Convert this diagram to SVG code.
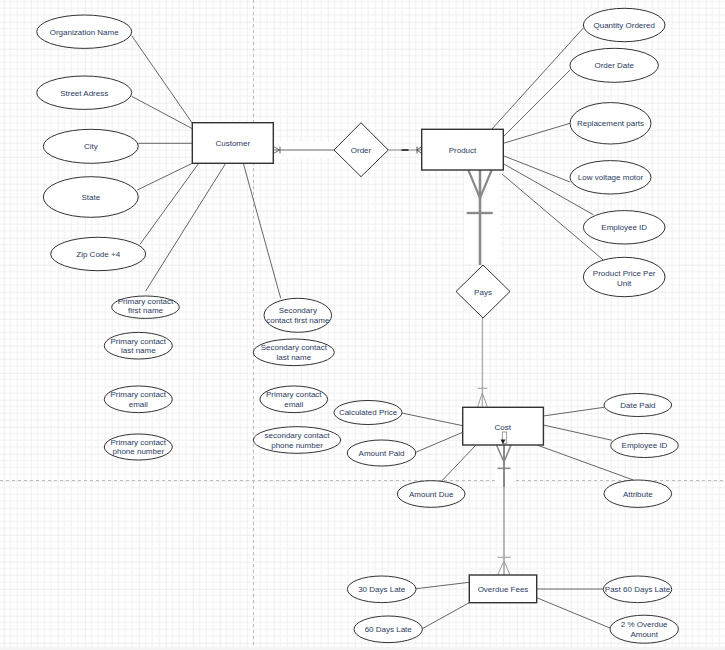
<svg xmlns="http://www.w3.org/2000/svg" width="725" height="650" viewBox="0 0 725 650">
<defs>
<pattern id="grid" patternUnits="userSpaceOnUse" x="3.7" y="21.7" width="27" height="27">
<path d="M6.75 0V27M13.5 0V27M20.25 0V27M0 6.75H27M0 13.5H27M0 20.25H27" stroke="#f1f1f1" stroke-width="1" fill="none"/>
<path d="M0 0V27M0 0H27" stroke="#dedede" stroke-width="1" fill="none"/>
</pattern>
<filter id="blur" x="-50%" y="-10%" width="200%" height="120%"><feGaussianBlur stdDeviation="0.7"/></filter>
<style>
.e{fill:#fff;stroke:#333;stroke-width:1}
.r{fill:#fff;stroke:#333;stroke-width:1.4}
.t{font-family:"Liberation Sans",Arial,sans-serif;font-size:8px;fill:#2b3a62;text-anchor:middle}
.c{stroke:#555;stroke-width:0.9;fill:none}
.g{stroke:#8a8a8a;fill:none}
</style>
</defs>
<rect width="725" height="650" fill="#fff"/>
<rect width="725" height="647" fill="url(#grid)"/>
<rect y="647" width="725" height="3" fill="#f3f3f3"/>
<line x1="253.5" y1="0" x2="253.5" y2="647" stroke="#bdbdbd" stroke-dasharray="3,3"/>
<line x1="0" y1="480.5" x2="725" y2="480.5" stroke="#bdbdbd" stroke-dasharray="3,3"/>

<g id="connectors">
<!-- halos -->
<rect x="274" y="142" width="60" height="16" fill="#fff"/>
<rect x="464" y="170" width="36" height="94" fill="#fff"/>
<rect x="495" y="445" width="18" height="41" fill="#fff"/>
<!-- customer attrs -->
<line class="c" x1="131.7" y1="35.7" x2="192" y2="122.7"/>
<line class="c" x1="131.7" y1="96.3" x2="192.3" y2="128.7"/>
<line class="c" x1="138.3" y1="143.3" x2="192.3" y2="143.3"/>
<line class="c" x1="137.3" y1="190" x2="192.3" y2="163.3"/>
<line class="c" x1="140" y1="244.3" x2="198.7" y2="163.3"/>
<line class="c" x1="225.7" y1="163.3" x2="145.7" y2="291"/>
<line class="c" x1="243.3" y1="163.3" x2="280.7" y2="298.3"/>
<!-- product attrs -->
<line class="c" x1="491.7" y1="129.3" x2="583.3" y2="28"/>
<line class="c" x1="503.3" y1="136.7" x2="570" y2="70"/>
<line class="c" x1="503.3" y1="143.3" x2="570" y2="123.3"/>
<line class="c" x1="503.3" y1="155.7" x2="570" y2="182"/>
<line class="c" x1="503.3" y1="163.7" x2="593.3" y2="214.7"/>
<line class="c" x1="502" y1="174" x2="603.3" y2="260"/>
<!-- cost attrs -->
<line class="c" x1="401.7" y1="413" x2="462.7" y2="425.7"/>
<line class="c" x1="415.7" y1="452.3" x2="462.7" y2="432.3"/>
<line class="c" x1="441.7" y1="481" x2="476" y2="445"/>
<line class="c" x1="543.3" y1="416" x2="604" y2="407.3"/>
<line class="c" x1="543.3" y1="425" x2="612" y2="440.3"/>
<line class="c" x1="537" y1="445" x2="633.3" y2="480"/>
<!-- overdue attrs -->
<line class="c" x1="416" y1="588.7" x2="469.3" y2="582.3"/>
<line class="c" x1="422.3" y1="628.7" x2="469.3" y2="602.7"/>
<line class="c" x1="536.7" y1="589" x2="603.3" y2="589"/>
<line class="c" x1="536.7" y1="597.7" x2="610" y2="628"/>
<!-- customer - order -->
<line class="c" x1="273" y1="150" x2="334" y2="150"/>
<path class="c" d="M273.5 146.5L279.5 150L273.5 153.5M280 146.5V153.5"/>
<!-- order - product -->
<line x1="388.3" y1="150" x2="421.7" y2="150" stroke="#888" stroke-width="1.2"/>
<line x1="401.5" y1="150" x2="408.5" y2="150" stroke="#333" stroke-width="1.8"/>
<path d="M417 146.5V153.5M417 150L421.7 146.5M417 150L421.7 153.5" stroke="#444" stroke-width="0.9" fill="none"/>
<!-- product - pays (blurred thick) -->
<g filter="url(#blur)">
<line class="g" x1="480" y1="170" x2="480" y2="265" stroke-width="2.6"/>
<path class="g" d="M468.3 170L480 198M491.7 170L480 198" stroke-width="2.2"/>
<line class="g" x1="466.7" y1="213" x2="492.7" y2="213" stroke-width="2.4"/>
</g>
<!-- pays - cost -->
<line x1="482.3" y1="317.7" x2="482.3" y2="406.7" stroke="#9a9a9a" stroke-width="1"/>
<line x1="477.7" y1="388.3" x2="487.3" y2="388.3" stroke="#9a9a9a" stroke-width="1"/>
<path d="M482.3 393L477.7 406.7M482.3 393L487.3 406.7" stroke="#9a9a9a" stroke-width="1" fill="none"/>
<!-- cost - overdue -->
<g filter="url(#blur)">
<line x1="504" y1="445" x2="504" y2="487" stroke="#8a8a8a" stroke-width="2"/>
<path d="M496.5 445L504 462M511 445L504 462" stroke="#8a8a8a" stroke-width="1.6" fill="none"/>
<line x1="497.5" y1="468.3" x2="510.5" y2="468.3" stroke="#8a8a8a" stroke-width="1.6"/>
</g>
<line x1="504" y1="487" x2="504" y2="575" stroke="#a8a8a8" stroke-width="1.6"/>
<line x1="497.5" y1="557.3" x2="510.5" y2="557.3" stroke="#9a9a9a" stroke-width="1"/>
<path d="M504 561L497.5 575M504 561L510 575" stroke="#9a9a9a" stroke-width="1" fill="none"/>
</g>

<g id="customer"><rect class="r" x="192.3" y="122.7" width="81" height="40.6"/><text class="t" x="232.8" y="146">Customer</text></g>
<g id="order"><polygon class="e" points="361,122.7 388.3,150 361,176.7 334,150"/><text class="t" x="361" y="152.8">Order</text></g>
<g id="product"><rect class="r" x="421.7" y="129.3" width="81.6" height="40.7"/><text class="t" x="462.5" y="153">Product</text></g>
<g id="pays"><polygon class="e" points="483,265 510,291.5 483,318 456,291.5"/><text class="t" x="483" y="294.5">Pays</text></g>
<g id="cost"><rect class="r" x="462.7" y="407.3" width="80.7" height="37.7"/><text class="t" x="502.7" y="430">Cost</text>
<rect x="502.3" y="432" width="4.4" height="11.5" fill="#fff" stroke="#777" stroke-width="0.7"/><polygon points="500.5,439.5 505.5,439.5 503,444" fill="#222"/></g>
<g id="overdue-fees"><rect class="r" x="469.3" y="575" width="67.4" height="27.7"/><text class="t" x="503" y="592">Overdue Fees</text></g>

<g id="organization-name"><ellipse class="e" cx="84.2" cy="31.7" rx="47.5" ry="16.7"/><text class="t" x="84.2" y="34.5">Organization Name</text></g>
<g id="street-adress"><ellipse class="e" cx="84.2" cy="92.7" rx="47.5" ry="16.7"/><text class="t" x="84.2" y="95.5">Street Adress</text></g>
<g id="city"><ellipse class="e" cx="90.8" cy="146.3" rx="47.5" ry="17"/><text class="t" x="90.8" y="149.2">City</text></g>
<g id="state"><ellipse class="e" cx="90.8" cy="197" rx="47.5" ry="20.3"/><text class="t" x="90.8" y="200">State</text></g>
<g id="zip-code"><ellipse class="e" cx="98.2" cy="254" rx="47.5" ry="16.7"/><text class="t" x="98.2" y="257">Zip Code +4</text></g>

<g id="primary-first"><ellipse class="e" cx="145.5" cy="307.2" rx="33.8" ry="11.2"/><text class="t" x="145.5" y="303.5">Primary contact</text><text class="t" x="145.5" y="313.2">first name</text></g>
<g id="primary-last"><ellipse class="e" cx="138.3" cy="345.7" rx="34" ry="13.3"/><text class="t" x="138.3" y="343.5">Primary contact</text><text class="t" x="138.3" y="353.2">last name</text></g>
<g id="primary-email"><ellipse class="e" cx="138.3" cy="399.3" rx="34" ry="13.3"/><text class="t" x="138.3" y="397.2">Primary contact</text><text class="t" x="138.3" y="406.8">email</text></g>
<g id="primary-phone"><ellipse class="e" cx="138.3" cy="447" rx="34" ry="13"/><text class="t" x="138.3" y="445.2">Primary contact</text><text class="t" x="138.3" y="454.2">phone number</text></g>
<g id="secondary-first"><ellipse class="e" cx="297.8" cy="315.3" rx="33.8" ry="17"/><text class="t" x="297.8" y="313.2">Secondary</text><text class="t" x="297.8" y="323.2">contact first name</text></g>
<g id="secondary-last"><ellipse class="e" cx="293.8" cy="352.3" rx="40.5" ry="13.3"/><text class="t" x="293.8" y="350.2">Secondary contact</text><text class="t" x="293.8" y="360.2">last name</text></g>
<g id="primary-email-2"><ellipse class="e" cx="293.8" cy="399.3" rx="33.8" ry="13.3"/><text class="t" x="293.8" y="397.2">Primary contact</text><text class="t" x="293.8" y="406.8">email</text></g>
<g id="secondary-phone"><ellipse class="e" cx="297" cy="440" rx="43.7" ry="13.3"/><text class="t" x="297" y="438.2">secondary contact</text><text class="t" x="297" y="447.9">phone number</text></g>

<g id="quantity-ordered"><ellipse class="e" cx="624.2" cy="25" rx="40.8" ry="16.7"/><text class="t" x="624.2" y="27.8">Quantity Ordered</text></g>
<g id="order-date"><ellipse class="e" cx="614.2" cy="65.3" rx="44.2" ry="17"/><text class="t" x="614.2" y="68">Order Date</text></g>
<g id="replacement-parts"><ellipse class="e" cx="610.5" cy="123.3" rx="40.5" ry="20.7"/><text class="t" x="610.5" y="126.2">Replacement parts</text></g>
<g id="low-voltage-motor"><ellipse class="e" cx="610.5" cy="177.3" rx="40.5" ry="16.7"/><text class="t" x="610.5" y="180.2">Low voltage motor</text></g>
<g id="employee-id"><ellipse class="e" cx="624.2" cy="227.3" rx="40.8" ry="16.7"/><text class="t" x="624.2" y="230.2">Employee ID</text></g>
<g id="product-price"><ellipse class="e" cx="624.2" cy="277" rx="40.8" ry="19.7"/><text class="t" x="624.2" y="276.1">Product Price Per</text><text class="t" x="624.2" y="286.1">Unit</text></g>

<g id="calculated-price"><ellipse class="e" cx="368" cy="412.5" rx="34" ry="12"/><text class="t" x="368" y="415.3">Calculated Price</text></g>
<g id="amount-paid"><ellipse class="e" cx="381.5" cy="453" rx="34.2" ry="13"/><text class="t" x="381.5" y="455.8">Amount Paid</text></g>
<g id="amount-due"><ellipse class="e" cx="431.2" cy="494" rx="33.8" ry="13.3"/><text class="t" x="431.2" y="496.8">Amount Due</text></g>
<g id="date-paid"><ellipse class="e" cx="637.8" cy="405" rx="33.8" ry="11.5"/><text class="t" x="637.8" y="407.8">Date Paid</text></g>
<g id="employee-id-2"><ellipse class="e" cx="644.5" cy="445.5" rx="33.8" ry="12"/><text class="t" x="644.5" y="448.3">Employee ID</text></g>
<g id="attribute"><ellipse class="e" cx="637.8" cy="493.7" rx="33.8" ry="13.7"/><text class="t" x="637.8" y="496.5">Attribute</text></g>

<g id="days-30"><ellipse class="e" cx="381.7" cy="589.3" rx="34.3" ry="13.3"/><text class="t" x="381.7" y="592.1">30 Days Late</text></g>
<g id="days-60"><ellipse class="e" cx="388.2" cy="629.3" rx="34.2" ry="13.3"/><text class="t" x="388.2" y="632.1">60 Days Late</text></g>
<g id="past-60"><ellipse class="e" cx="637.5" cy="589.3" rx="34.2" ry="13.3"/><text class="t" x="637.5" y="592.1">Past 60 Days Late</text></g>
<g id="overdue-amount"><ellipse class="e" cx="644.2" cy="629.2" rx="34.2" ry="14"/><text class="t" x="644.2" y="626.8">2 % Overdue</text><text class="t" x="644.2" y="636.8">Amount</text></g>
</svg>
